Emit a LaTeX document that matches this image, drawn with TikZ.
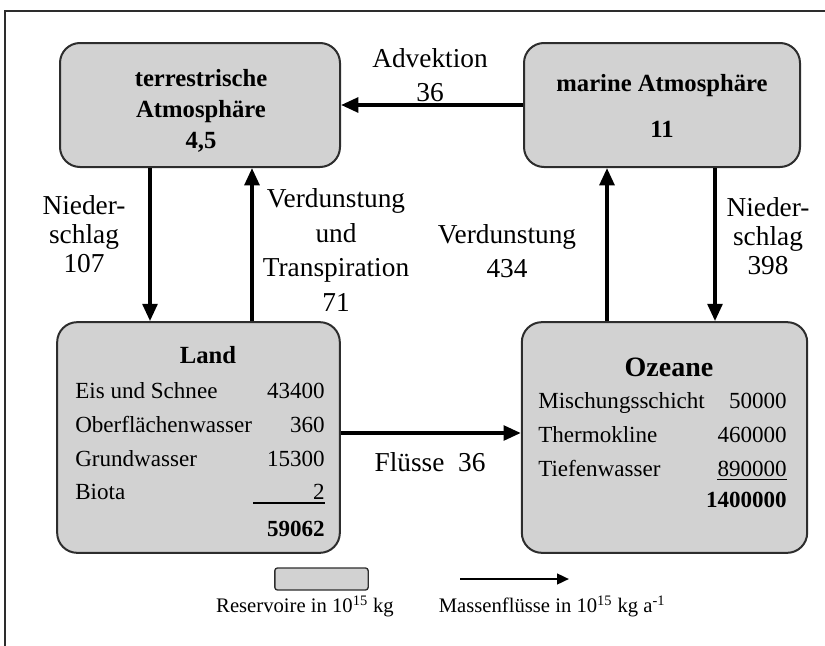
\documentclass[tikz,border=0pt]{standalone}
\usepackage{fontspec}
\setmainfont{Liberation Serif}
\usetikzlibrary{arrows.meta}
\definecolor{boxgray}{RGB}{210,210,210}
\definecolor{edgegray}{RGB}{45,45,45}

\begin{document}
\begin{tikzpicture}[x=0.75pt,y=-0.75pt,
  reservoir/.style={draw=edgegray, line width=1.5pt, fill=boxgray,
    rounded corners=15pt, inner sep=0pt},
  flow/.style={line width=2.8pt, -{Triangle[length=13pt,width=11pt]}},
  lbl/.style={font=\fontsize{20.5}{26}\selectfont, align=center, inner sep=0pt},
  lblnarrow/.style={font=\fontsize{20.5}{22}\selectfont, align=center, inner sep=0pt},
  title/.style={font=\bfseries\fontsize{18.5}{23}\selectfont, align=center, inner sep=0pt},
  row/.style={font=\fontsize{17.3}{20}\selectfont, inner sep=0pt,
    text height=12pt, text depth=4pt},
  sumrow/.style={row, font=\bfseries\fontsize{17.3}{20}\selectfont},
  legtext/.style={font=\fontsize{15.5}{18}\selectfont, inner sep=0pt},
]
\useasboundingbox (0,0) rectangle (825,646);

% outer frame (top and left edges)
\draw[edgegray, line width=0.8pt] (5,646) -- (5,11) -- (825,11);

% reservoirs
\node[reservoir, minimum width=210pt, minimum height=93pt] (tatm) at (200,105) {};
\node[reservoir, minimum width=207pt, minimum height=93pt] (matm) at (662,105) {};
\node[reservoir, minimum width=212pt, minimum height=173pt] (land) at (198.5,437.5) {};
\node[reservoir, minimum width=214pt, minimum height=173pt] (ozean) at (664.5,437.5) {};

% atmosphere contents
\node[title] (tatmtxt) at (201,111) {terrestrische\\Atmosphäre\\4,5};
\node[title, font=\bfseries\fontsize{18.5}{35}\selectfont] (matmtxt) at (662,106) {marine Atmosphäre\\11};

% land contents
\node[title] (landt) at (208,355) {Land};
\node[row, anchor=west] (l1) at (75,393) {Eis und Schnee};
\node[row, anchor=west] (l2) at (75,427) {Oberflächenwasser};
\node[row, anchor=west] (l3) at (75,461) {Grundwasser};
\node[row, anchor=west] (l4) at (75,494) {Biota};
\node[row, anchor=east] (v1) at (325,393) {43400};
\node[row, anchor=east] (v2) at (325,427) {360};
\node[row, anchor=east] (v3) at (325,461) {15300};
\node[row, anchor=east] (v4) at (325,494) {2};
\coordinate (sumL) at (253,503);
\draw[line width=0.8pt] (sumL) -- (sumL -| v4.east);
\node[sumrow, anchor=east] (vsum) at (325,531) {59062};

% ocean contents
\node[title, font=\bfseries\fontsize{21}{25}\selectfont] (ozt) at (669,367) {Ozeane};
\node[row, anchor=west] (o1) at (538,403) {Mischungsschicht};
\node[row, anchor=west] (o2) at (538,437) {Thermokline};
\node[row, anchor=west] (o3) at (538,471) {Tiefenwasser};
\node[row, anchor=east] (w1) at (787,403) {50000};
\node[row, anchor=east] (w2) at (787,437) {460000};
\node[row, anchor=east] (w3) at (787,471) {890000};
\draw[line width=0.8pt] ([yshift=-2.5pt]w3.base west) -- ([yshift=-2.5pt]w3.base east);
\node[sumrow, anchor=east] (wsum) at (787,502) {1400000};

% flux positions
\coordinate (xNl) at (150,0);
\coordinate (xVt) at (252,0);
\coordinate (xVo) at (607,0);
\coordinate (xNo) at (715,0);
\coordinate (yFl) at (0,433);

% mass fluxes
\draw[flow] (matm.west) -- (tatm.east);
\draw[flow] (tatm.south -| xNl) -- (land.north -| xNl);
\draw[flow] (land.north -| xVt) -- (tatm.south -| xVt);
\draw[flow] (ozean.north -| xVo) -- (matm.south -| xVo);
\draw[flow] (matm.south -| xNo) -- (ozean.north -| xNo);
\draw[flow] (land.east |- yFl) -- (ozean.west |- yFl);

% flux labels
\node[lbl] (advl) at (430,75) {Advektion\\36};
\node[lblnarrow] (nll) at (84,234) {Nieder-\\schlag\\107};
\node[lbl] (vtl) at (336,250) {Verdunstung\\und\\Transpiration\\71};
\node[lbl] (vol) at (507,251) {Verdunstung\\434};
\node[lblnarrow] (nol) at (768,236) {Nieder-\\schlag\\398};
\node[lbl] (fll) at (430,462) {Flüsse\ \ 36};

% legend
\node[draw=edgegray, line width=1pt, fill=boxgray, rounded corners=2pt,
  minimum width=70pt, minimum height=16.5pt, inner sep=0pt] (legbox) at (321.5,579) {};
\node[legtext] (legboxt) at (305,606) {Reservoire in 10\textsuperscript{15} kg};
\coordinate (legA) at (460,579);
\coordinate (legB) at (569,579);
\draw[line width=1.8pt, -{Triangle[length=9pt,width=8pt]}] (legA) -- (legB);
\node[legtext] (legflowt) at (552,606) {Massenflüsse in 10\textsuperscript{15} kg a\textsuperscript{-1}};
\end{tikzpicture}
\end{document}
